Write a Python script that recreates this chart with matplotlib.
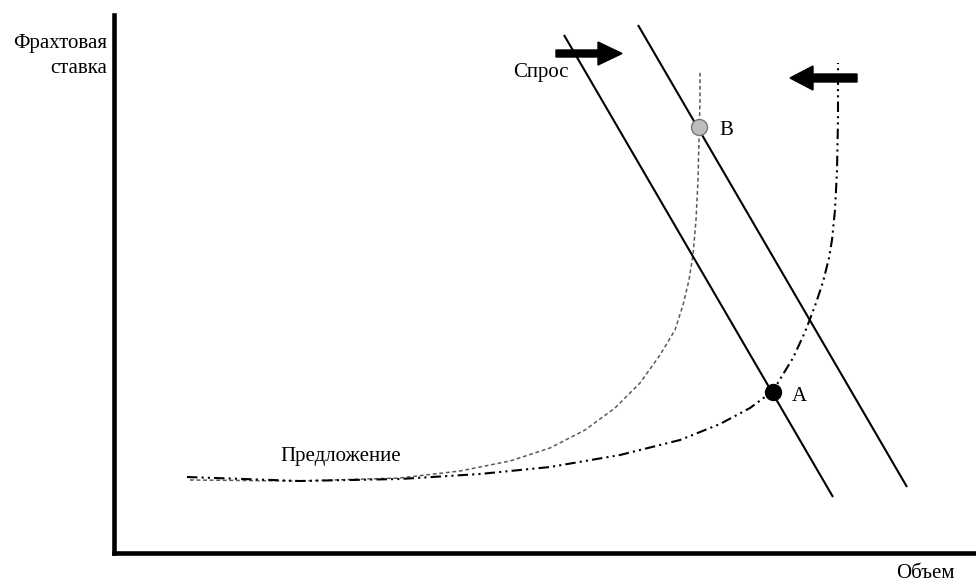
import matplotlib
matplotlib.use("Agg")
import matplotlib.pyplot as plt

plt.rcParams['font.family'] = ['Liberation Serif', 'DejaVu Serif']

# supply curve before the shift (grey, dashed)
supply_old_x = [76, 186, 286, 346, 396, 436, 471, 501, 526, 546, 561, 569, 575, 579, 582, 584, 585, 586, 586]
supply_old_y = [73, 72, 75, 82, 92, 105, 123, 145, 170, 198, 223, 248, 273, 298, 333, 373, 413, 453, 483]

# supply curve (dash-dot-dot)
supply_x = [73, 186, 286, 366, 436, 506, 566, 606, 636, 659, 668, 679, 691, 701, 709, 715, 718, 721, 723, 724, 724]
supply_y = [76, 72, 74, 79, 86, 98, 113, 129, 145, 162, 177, 195, 221, 247, 271, 295, 313, 343, 383, 433, 490]

# demand lines
demand1_x = [450, 719]
demand1_y = [518, 56]
demand2_x = [524, 793]
demand2_y = [528, 66]

# equilibrium points
pt_a = (659, 161)
pt_b = (585, 426)

fig = plt.figure(figsize=(9.76, 5.83), dpi=100)
ax = fig.add_axes([114 / 976, 30 / 583, 862 / 976, 538 / 583])
ax.set_xlim(0, 862)
ax.set_ylim(0, 538)
for s in ['top', 'right']:
    ax.spines[s].set_visible(False)
for s in ['left', 'bottom']:
    ax.spines[s].set_linewidth(3.3)
ax.set_xticks([])
ax.set_yticks([])

ax.plot(supply_old_x, supply_old_y, color='#5a5a5a', lw=1.1, linestyle=(0, (2.5, 1.8)))
ax.plot(supply_x, supply_y, color='black', lw=1.5, linestyle=(0, (5, 2, 1, 2, 1, 2)))
ax.plot(demand1_x, demand1_y, color='black', lw=1.5, solid_capstyle='butt')
ax.plot(demand2_x, demand2_y, color='black', lw=1.5, solid_capstyle='butt')

ax.plot(*pt_b, 'o', ms=11.5, mfc='#bdbdbd', mec='#777777', mew=1)
ax.plot(*pt_a, 'o', ms=11.5, mfc='black', mec='black')

# shift arrows
ax.arrow(442, 499.5, 66, 0, width=7, head_width=23, head_length=24,
         length_includes_head=True, color='black', clip_on=False)
ax.arrow(743, 475, -67, 0, width=8, head_width=24, head_length=23,
         length_includes_head=True, color='black', clip_on=False)

fs = 15
ax.text(-7, 505, 'Фрахтовая', ha='right', va='baseline', fontsize=fs, clip_on=False)
ax.text(-7, 480, 'ставка', ha='right', va='baseline', fontsize=fs, clip_on=False)
ax.text(455, 476, 'Спрос', ha='right', va='baseline', fontsize=fs)
ax.text(605, 418, 'B', ha='left', va='baseline', fontsize=fs)
ax.text(678, 152, 'A', ha='left', va='baseline', fontsize=fs)
ax.text(166, 92, 'Предложение', ha='left', va='baseline', fontsize=fs)
ax.text(782, -25, 'Объем', ha='left', va='baseline', fontsize=fs, clip_on=False)

fig.savefig('out.png', dpi=100)
